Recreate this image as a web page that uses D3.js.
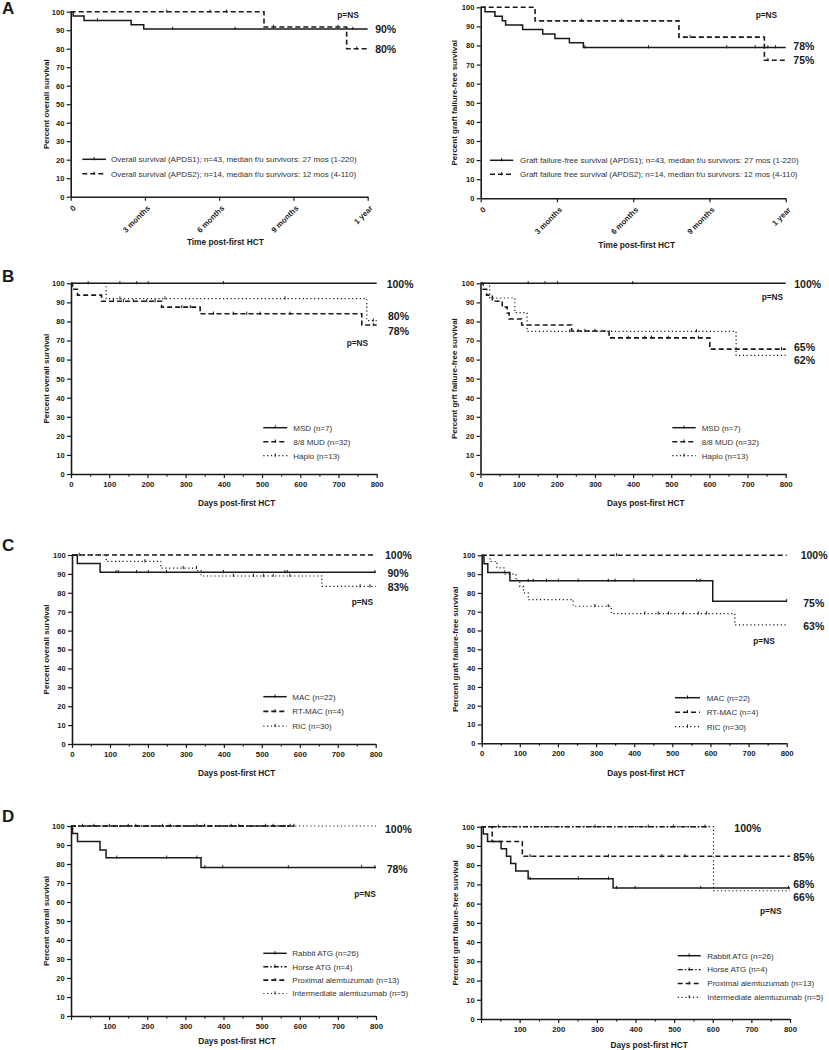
<!DOCTYPE html>
<html><head><meta charset="utf-8">
<script src="https://cdn.jsdelivr.net/npm/d3@7"></script>
<style>
body{margin:0;background:#fff}
svg{display:block}
text{font-family:"Liberation Sans",Arial,Helvetica,sans-serif;fill:#1a1a1a}
</style>
</head><body>
<svg id="chart" width="829" height="1050"></svg>
<script>
// ================= DATA =================
// Panel A (time in months)
const monthTicks = [0, 3, 6, 9, 12];
const monthTickLabels = ["0", "3 months", "6 months", "9 months", "1 year"];
const osA_APDS1 = [[0,100],[0.1,97.7],[0.54,95.3],[2.44,93.0],[2.95,90.7],[12,90.7]];
const osA_APDS1_cens = [1.08, 4.12, 6.64, 11.4];
const osA_APDS2 = [[0,100],[7.81,91.7],[11.15,80],[12,80]];
const osA_APDS2_cens = [3.88, 5.63, 6.3, 8.19, 10.8, 11.56];
const gfA_APDS1 = [[0,100],[0.17,97.7],[0.56,95.3],[0.85,93.0],[0.98,90.7],[1.65,88.4],[2.44,86.0],[2.92,83.7],[3.49,81.4],[4.04,79.0],[12,79.0]];
const gfA_APDS1_cens = [4.1, 6.6, 9.68, 10.8, 11.3, 11.6];
const gfA_APDS2 = [[0,100],[2.14,92.9],[7.8,84.4],[11.16,72.3],[12,72.3]];
const gfA_APDS2_cens = [3.97, 5.55, 8.24, 11.3];

// Panels B-D (time in days)
const dayTicks = [0,100,200,300,400,500,600,700,800];
const dayMinorTicks = [50,150,250,350,450,550,650,750];
const dayTickLabels = ["0","100","200","300","400","500","600","700","800"];
const dayTickLabelsNoZero = ["","100","200","300","400","500","600","700","800"];
const yTicks = [0,10,20,30,40,50,60,70,80,90,100];

// B: donor type
const osB_MSD = [[0,100],[800,100]];
const osB_MSD_cens = [45,128,172,202,399];
const osB_MUD = [[0,100],[4,96.9],[17,93.8],[80,90.6],[237,87.5],[338,84.0],[761,78.1],[800,78.1]];
const osB_MUD_cens = [111,137,163,198,220,290,312,373,425,460,495,573,791];
const osB_Haplo = [[0,100],[92,92.0],[774,80.4],[800,80.4]];
const osB_Haplo_cens = [128,246,560,791];
const gfB_MSD = [[0,100],[800,100]];
const gfB_MSD_cens = [125,169,202,399];
const gfB_MUD = [[0,100],[7,96.9],[16,93.8],[31,90.6],[57,87.5],[70,84.4],[75,81.3],[108,78.1],[239,75.0],[337,71.4],[601,65.5],[800,65.5]];
const gfB_MUD_cens = [256,274,300,387,431,448,492,571,789];
const gfB_Haplo = [[0,100],[24,92.3],[90,84.6],[122,74.8],[670,62.2],[800,62.2]];
const gfB_Haplo_cens = [234,566];

// C: conditioning
const osC_MAC = [[0,100],[14,95.5],[74,90.9],[800,90.9]];
const osC_MAC_cens = [116,122,170,201,249,399,561,567,798];
const osC_RTMAC = [[0,100],[800,100]];
const osC_RTMAC_cens = [19];
const osC_RIC = [[0,100],[90,96.6],[234,93.1],[330,91.8],[340,88.9],[658,83.4],[800,83.4]];
const osC_RIC_cens = [192,293,328,425,478,504,530,574,759,785];
const gfC_MAC = [[0,100],[6,95.5],[16,90.9],[74,86.4],[606,75.6],[800,75.6]];
const gfC_MAC_cens = [122,135,170,201,253,332,350,399,564,573,800];
const gfC_RTMAC = [[0,100],[800,100]];
const gfC_RTMAC_cens = [354];
const gfC_RIC = [[0,100],[22,96.7],[40,93.3],[60,90.0],[90,86.7],[100,83.3],[110,80.0],[122,76.4],[240,72.9],[340,69.0],[664,63.0],[800,63.0]];
const gfC_RIC_cens = [297,332,428,463,490,529,568,590];

// D: serotherapy
const osD_Rabbit = [[0,100],[4,96.1],[17,91.8],[76,87.4],[92,83.3],[341,78.2],[800,78.2]];
const osD_Rabbit_cens = [120,251,330,351,398,570,762,797];
const osD_Horse = [[0,100],[585,100]];
const osD_Horse_cens = [60,150,240,330,420,510,585];
const osD_Prox = [[0,100],[575,100]];
const osD_Prox_cens = [30,100,170,260,350,440,530,575];
const osD_Inter = [[0,100],[800,100]];
const osD_Inter_cens = [];
const gfD_Rabbit = [[0,100],[6,96.2],[17,92.3],[52,88.5],[66,84.6],[77,80.8],[90,76.9],[122,72.9],[342,68.1],[800,68.1]];
const gfD_Rabbit_cens = [127,252,330,351,399,569,796];
const gfD_Horse = [[0,100],[590,100]];
const gfD_Horse_cens = [45,295,433,498,580];
const gfD_Prox = [[0,100],[29,92.3],[107,84.6],[800,84.6]];
const gfD_Prox_cens = [127,330,468,528];
const gfD_Inter = [[0,100],[602,66.7],[800,66.7]];
const gfD_Inter_cens = [];

// ================= STYLES / LAYOUT =================
const STYLES = {
  solid:   {dash:null, w:1.5},
  dashed:  {dash:"5,3", w:1.6},
  dotted:  {dash:"1.2,2.6", w:1.2},
  dashdot: {dash:"5,2,1.5,2", w:1.4}
};

const panels = [
 {letter:"A", letterPos:[2,14], geom:{x0:70.7,x1:367.7,yTop:11.7,yBot:196.7}, xDomain:[0,12], xKind:"months",
  xTitle:"Time post-first HCT", xTitlePos:[225.3,241.7], yTitle:"Percent overall survival", yTitleX:45.7,
  series:[
   {name:"Overall survival (APDS1); n=43, median f/u survivors: 27 mos (1-220)", pts:osA_APDS1, cens:osA_APDS1_cens, style:"solid"},
   {name:"Overall survival (APDS2); n=14, median f/u survivors: 12 mos (4-110)", pts:osA_APDS2, cens:osA_APDS2_cens, style:"dashed"}],
  legend:{x:82.3, len:23.7, tx:111, y:159.3, dy:14.4},
  notes:[{t:"90%",x:12.3,y:90.5,c:"pct"},{t:"80%",x:12.3,y:79.7,c:"pct"},{t:"p=NS",x:10.77,y:98.4,c:"pns"}]},
 {geom:{x0:480.7,x1:785.7,yTop:7.3,yBot:198.3}, xDomain:[0,12], xKind:"months",
  xTitle:"Time post-first HCT", xTitlePos:[636.7,245], yTitle:"Percent graft failure-free survival", yTitleX:454.3,
  series:[
   {name:"Graft failure-free survival (APDS1); n=43, median f/u survivors: 27 mos (1-220)", pts:gfA_APDS1, cens:gfA_APDS1_cens, style:"solid"},
   {name:"Graft failure free survival (APDS2); n=14, median f/u survivors: 12 mos (4-110)", pts:gfA_APDS2, cens:gfA_APDS2_cens, style:"dashed"}],
  legend:{x:490, len:23.3, tx:520, y:160.3, dy:14},
  notes:[{t:"78%",x:12.3,y:79.7,c:"pct"},{t:"75%",x:12.3,y:72.0,c:"pct"},{t:"p=NS",x:10.82,y:96.1,c:"pns"}]},
 {letter:"B", letterPos:[2,281.7], geom:{x0:71,x1:376.7,yTop:283.3,yBot:474}, xDomain:[0,800], xKind:"days",
  xTitle:"Days post-first HCT", xTitlePos:[236.7,503.3], yTitle:"Percent overall survival", yTitleX:45.7,
  series:[
   {name:"MSD (n=7)", pts:osB_MSD, cens:osB_MSD_cens, style:"solid"},
   {name:"8/8 MUD (n=32)", pts:osB_MUD, cens:osB_MUD_cens, style:"dashed"},
   {name:"Haplo (n=13)", pts:osB_Haplo, cens:osB_Haplo_cens, style:"dotted"}],
  legend:{x:263.3, len:24, tx:293.3, y:427.7, dy:14},
  notes:[{t:"100%",x:826,y:99.5,c:"pct"},{t:"80%",x:829.6,y:82.5,c:"pct"},{t:"78%",x:829.6,y:74.6,c:"pct"},{t:"p=NS",x:721.5,y:68.5,c:"pns"}]},
 {geom:{x0:480.5,x1:785.7,yTop:283.3,yBot:474}, xDomain:[0,800], xKind:"days",
  xTitle:"Days post-first HCT", xTitlePos:[645.8,503.3], yTitle:"Percent grft failure-free survival", yTitleX:454.3,
  series:[
   {name:"MSD (n=7)", pts:gfB_MSD, cens:gfB_MSD_cens, style:"solid"},
   {name:"8/8 MUD (n=32)", pts:gfB_MUD, cens:gfB_MUD_cens, style:"dashed"},
   {name:"Haplo (n=13)", pts:gfB_Haplo, cens:gfB_Haplo_cens, style:"dotted"}],
  legend:{x:672.3, len:23.4, tx:701.7, y:427.7, dy:14},
  notes:[{t:"100%",x:822.5,y:99.5,c:"pct"},{t:"65%",x:821.8,y:66.4,c:"pct"},{t:"62%",x:821.8,y:59.8,c:"pct"},{t:"p=NS",x:737,y:92.7,c:"pns"}]},
 {letter:"C", letterPos:[2,550.7], geom:{x0:72,x1:375.7,yTop:555,yBot:744}, xDomain:[0,800], xKind:"days",
  xTitle:"Days post-first HCT", xTitlePos:[236.7,773.3], yTitle:"Percent overall survival", yTitleX:45.7,
  series:[
   {name:"MAC (n=22)", pts:osC_MAC, cens:osC_MAC_cens, style:"solid"},
   {name:"RT-MAC (n=4)", pts:osC_RTMAC, cens:osC_RTMAC_cens, style:"dashed"},
   {name:"RIC (n=30)", pts:osC_RIC, cens:osC_RIC_cens, style:"dotted"}],
  legend:{x:263.3, len:23.4, tx:292.3, y:696.7, dy:14.7},
  notes:[{t:"100%",x:824.5,y:99.8,c:"pct"},{t:"90%",x:831,y:90.3,c:"pct"},{t:"83%",x:831.6,y:82.9,c:"pct"},{t:"p=NS",x:736.8,y:74.9,c:"pns"}]},
 {geom:{x0:481.7,x1:786.7,yTop:555.3,yBot:743.3}, xDomain:[0,800], xKind:"days",
  xTitle:"Days post-first HCT", xTitlePos:[646,773.3], yTitle:"Percent graft failure-free survival", yTitleX:455,
  series:[
   {name:"MAC (n=22)", pts:gfC_MAC, cens:gfC_MAC_cens, style:"solid"},
   {name:"RT-MAC (n=4)", pts:gfC_RTMAC, cens:gfC_RTMAC_cens, style:"dashed"},
   {name:"RIC (n=30)", pts:gfC_RIC, cens:gfC_RIC_cens, style:"dotted"}],
  legend:{x:675, len:25, tx:706.7, y:697.7, dy:14.5},
  notes:[{t:"100%",x:836.7,y:100,c:"pct"},{t:"75%",x:843.5,y:74.5,c:"pct"},{t:"63%",x:843.5,y:62.0,c:"pct"},{t:"p=NS",x:712.4,y:54.5,c:"pns"}]},
 {letter:"D", letterPos:[2,821.7], geom:{x0:71,x1:376,yTop:826,yBot:1016}, xDomain:[0,800], xKind:"days", noZero:true,
  xTitle:"Days post-first HCT", xTitlePos:[237,1040.7], yTitle:"Percent overall survival", yTitleX:45.7,
  series:[
   {name:"Rabbit ATG (n=26)", pts:osD_Rabbit, cens:osD_Rabbit_cens, style:"solid"},
   {name:"Horse ATG (n=4)", pts:osD_Horse, cens:osD_Horse_cens, style:"dashdot"},
   {name:"Proximal alemtuzumab (n=13)", pts:osD_Prox, cens:osD_Prox_cens, style:"dashed"},
   {name:"Intermediate alemtuzumab (n=5)", pts:osD_Inter, cens:osD_Inter_cens, style:"dotted"}],
  legend:{x:263.3, len:23.4, tx:292.3, y:953.3, dy:13.4},
  notes:[{t:"100%",x:823.6,y:98.3,c:"pct"},{t:"78%",x:828,y:77.4,c:"pct"},{t:"p=NS",x:743,y:64.3,c:"pns"}]},
 {geom:{x0:481,x1:790,yTop:826.7,yBot:1019}, xDomain:[0,800], xKind:"days", noZero:true,
  xTitle:"Days post-first HCT", xTitlePos:[649.2,1045], yTitle:"Percent graft failure-free survival", yTitleX:455,
  series:[
   {name:"Rabbit ATG (n=26)", pts:gfD_Rabbit, cens:gfD_Rabbit_cens, style:"solid"},
   {name:"Horse ATG (n=4)", pts:gfD_Horse, cens:gfD_Horse_cens, style:"dashdot"},
   {name:"Proximal alemtuzumab (n=13)", pts:gfD_Prox, cens:gfD_Prox_cens, style:"dashed"},
   {name:"Intermediate alemtuzumab (n=5)", pts:gfD_Inter, cens:gfD_Inter_cens, style:"dotted"}],
  legend:{x:677.7, len:23, tx:707.3, y:955.7, dy:13.9},
  notes:[{t:"100%",x:655.8,y:99.2,c:"pct"},{t:"85%",x:808.5,y:84.1,c:"pct"},{t:"68%",x:808.5,y:70.2,c:"pct"},{t:"66%",x:808.5,y:63.1,c:"pct"},{t:"p=NS",x:722.3,y:56.2,c:"pns"}]}
];

// ================= DRAW =================
const svg = d3.select("#chart");
const INK = "#1a1a1a";

function survAt(pts, t){
  let s = pts[0][1];
  for (const p of pts){ if (p[0] <= t) s = p[1]; else break; }
  return s;
}

function styleAxis(sel){
  sel.select(".domain").attr("stroke", INK).attr("stroke-width", 1.6);
  sel.selectAll(".tick line").attr("stroke", INK).attr("stroke-width", 1.2);
  sel.selectAll(".tick text").attr("fill", INK).style("font-size","7.8px").style("font-weight","bold");
}

panels.forEach(p => {
  const g = svg.append("g");
  const G = p.geom;
  const x = d3.scaleLinear().domain(p.xDomain).range([G.x0, G.x1]);
  const y = d3.scaleLinear().domain([0,100]).range([G.yBot, G.yTop]);

  // Y axis
  const ya = g.append("g").attr("transform",`translate(${G.x0},0)`)
    .call(d3.axisLeft(y).tickValues(yTicks).tickSize(4).tickSizeOuter(0).tickPadding(2.4));
  styleAxis(ya);
  ya.selectAll(".tick text").style("font-size","7.5px");

  // X axis
  if (p.xKind === "months"){
    const xa = g.append("g").attr("transform",`translate(0,${G.yBot})`)
      .call(d3.axisBottom(x).tickValues(monthTicks).tickSize(4).tickSizeOuter(0).tickFormat((d,i)=>monthTickLabels[i]));
    styleAxis(xa);
    xa.selectAll(".tick text")
      .attr("y",0).attr("dy",0)
      .attr("text-anchor","end")
      .attr("transform","translate(5,12) rotate(-45)");
  } else {
    const labels = p.noZero ? dayTickLabelsNoZero : dayTickLabels;
    const xm = g.append("g").attr("transform",`translate(0,${G.yBot})`)
      .call(d3.axisBottom(x).tickValues(dayMinorTicks).tickSize(2.5).tickSizeOuter(0).tickFormat(""));
    styleAxis(xm);
    xm.select(".domain").remove();
    const xa = g.append("g").attr("transform",`translate(0,${G.yBot})`)
      .call(d3.axisBottom(x).tickValues(dayTicks).tickSize(4).tickSizeOuter(0).tickPadding(3).tickFormat((d,i)=>labels[i]));
    styleAxis(xa);
  }

  // Axis titles
  g.append("text").attr("x", p.xTitlePos[0]).attr("y", p.xTitlePos[1]).attr("dy","0.35em")
    .attr("text-anchor","middle").style("font-size","8.3px").style("font-weight","bold").text(p.xTitle);
  const yc = (G.yTop + G.yBot)/2;
  g.append("text").attr("transform",`translate(${p.yTitleX},${yc}) rotate(-90)`).attr("dy","0.35em")
    .attr("text-anchor","middle").style("font-size","8px").style("font-weight","bold").text(p.yTitle);

  // Curves
  const line = d3.line().x(d=>x(d[0])).y(d=>y(d[1])).curve(d3.curveStepAfter);
  p.series.forEach(s => {
    const st = STYLES[s.style];
    g.append("path").datum(s.pts).attr("d", line)
      .attr("fill","none").attr("stroke",INK).attr("stroke-width",st.w)
      .attr("stroke-dasharray", st.dash);
    g.selectAll(null).data(s.cens).enter().append("line")
      .attr("x1",d=>x(d)).attr("x2",d=>x(d))
      .attr("y1",d=>y(survAt(s.pts,d))-2.2).attr("y2",d=>y(survAt(s.pts,d))+1)
      .attr("stroke",INK).attr("stroke-width",1);
  });

  // Legend
  const L = p.legend;
  p.series.forEach((s,i) => {
    const st = STYLES[s.style];
    const ly = L.y + i*L.dy;
    g.append("line").attr("x1",L.x).attr("x2",L.x+L.len).attr("y1",ly).attr("y2",ly)
      .attr("stroke",INK).attr("stroke-width",st.w).attr("stroke-dasharray",st.dash);
    g.append("line").attr("x1",L.x+L.len/2).attr("x2",L.x+L.len/2).attr("y1",ly-2.2).attr("y2",ly+1)
      .attr("stroke",INK).attr("stroke-width",1);
    g.append("text").attr("x",L.tx).attr("y",ly).attr("dy","0.35em")
      .style("font-size","8px").style("fill","#333").text(s.name);
  });

  // Annotations
  p.notes.forEach(n => {
    g.append("text").attr("x", x(n.x)).attr("y", y(n.y)).attr("dy","0.35em")
      .style("font-size", n.c === "pct" ? "10.5px" : "8.3px").style("font-weight","bold").text(n.t);
  });

  // Panel letter
  if (p.letter){
    svg.append("text").attr("x",p.letterPos[0]).attr("y",p.letterPos[1])
      .style("font-size","17px").style("font-weight","bold").text(p.letter);
  }
});
</script>
</body></html>
